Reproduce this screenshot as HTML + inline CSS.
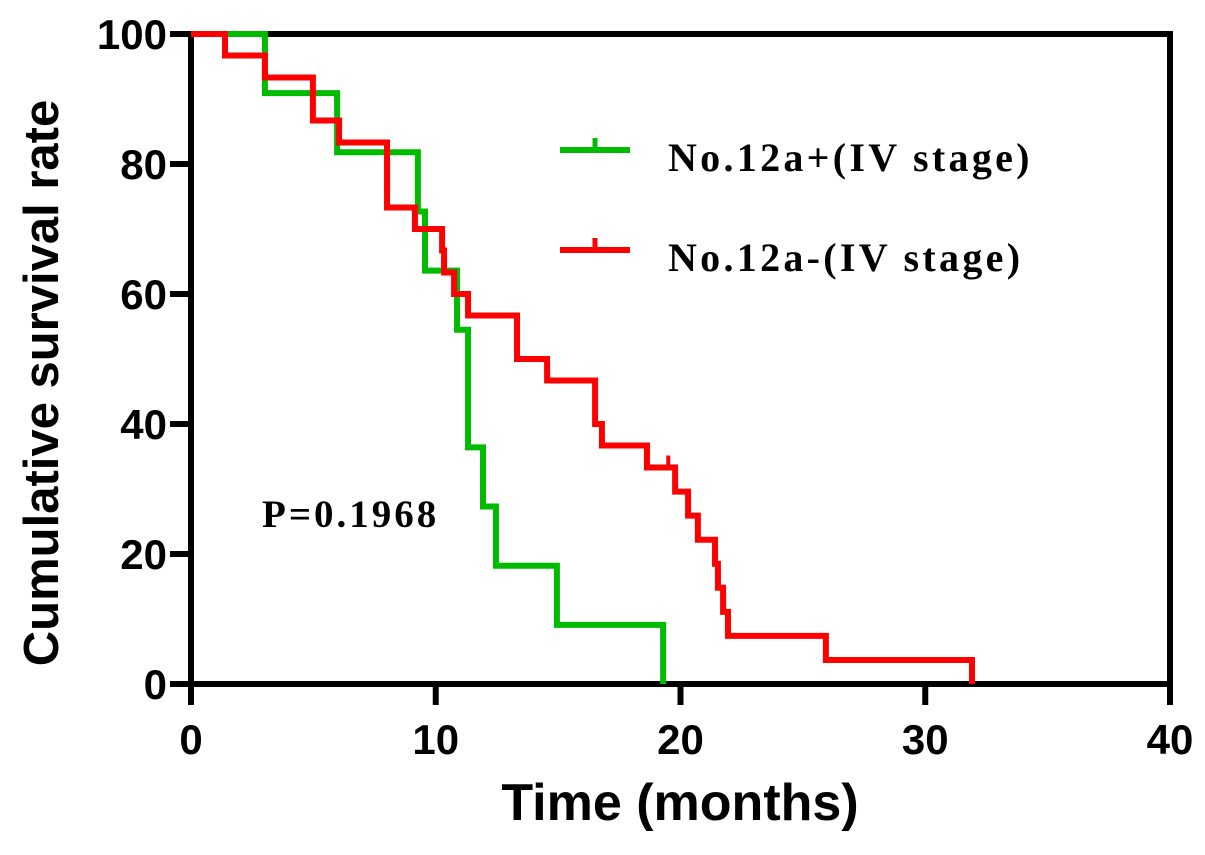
<!DOCTYPE html>
<html><head><meta charset="utf-8"><style>
html,body{margin:0;padding:0;background:#fff;}
svg{display:block;}
.tk{font-family:"Liberation Sans",Arial,sans-serif;font-weight:bold;font-size:42px;fill:#000;}
.ser{font-family:"Liberation Serif",serif;font-weight:bold;}
</style></head><body>
<svg id="chart" width="1205" height="855" xmlns="http://www.w3.org/2000/svg">
<g id="axes"></g>
<g id="series"></g>
<text class="tk" transform="translate(58,383) rotate(-90)" text-anchor="middle" style="font-size:49px">Cumulative survival rate</text>
<text class="tk" x="680" y="820" text-anchor="middle" style="font-size:52px">Time (months)</text>
<text class="ser" x="262" y="527" font-size="39" letter-spacing="3">P=0.1968</text>
<g>
<g>
<line x1="560" y1="150" x2="630" y2="150" stroke="#00bb00" stroke-width="6"/>
<line x1="595" y1="138" x2="595" y2="150" stroke="#00bb00" stroke-width="5"/>
<text class="ser" x="668" y="171" font-size="40" letter-spacing="3.3">No.12a+(IV stage)</text>
</g>
<g>
<line x1="560" y1="250" x2="630" y2="250" stroke="#ff0000" stroke-width="6"/>
<line x1="595" y1="238" x2="595" y2="250" stroke="#ff0000" stroke-width="5"/>
<text class="ser" x="668" y="271" font-size="40" letter-spacing="3.3">No.12a-(IV stage)</text>
</g>
</g>
</svg>
<script>
const xTicks=[0,10,20,30,40];
const yTicks=[0,20,40,60,80,100];
const greenTimes=[3.02,5.97,9.27,9.56,10.87,11.32,11.93,12.46,14.95,19.29];
const greenSurv=[90.9,81.8,72.7,63.6,54.5,36.4,27.3,18.2,9.1,0];
const redTimes=[1.39,3.02,4.98,6.05,8.01,9.15,10.26,10.34,10.75,11.32,13.32,14.55,16.51,16.79,18.63,19.78,20.31,20.71,21.41,21.53,21.74,21.94,25.94,31.91];
const redSurv=[96.7,93.3,86.7,83.3,73.3,70,66.7,63.3,60,56.7,50,46.7,40,36.7,33.3,29.6,25.9,22.2,18.5,14.8,11.1,7.4,3.7,0];
const redCensorTimes=[19.5];
const redCensorSurv=[33.3];
const NS="http://www.w3.org/2000/svg";
const X0=191,X1=1170,Y0=684,Y1=34;
const sx=v=>X0+(v-0)/40*(X1-X0);
const sy=v=>Y0-(v/100)*(Y0-Y1);
function mk(tag,attrs,parent){const e=document.createElementNS(NS,tag);for(const k in attrs)e.setAttribute(k,attrs[k]);parent.appendChild(e);return e;}
const ax=document.getElementById('axes');
let l=mk('path',{d:`M${X0},${Y1} H${X1} V${Y0} H${X0} Z`,fill:'none',stroke:'#000','stroke-width':6},ax);


xTicks.forEach(t=>{
 const tl=mk('line',{x1:sx(t),x2:sx(t),y1:Y0,y2:Y0+21,stroke:'#000','stroke-width':6},ax);
 
 
 const tx=mk('text',{x:sx(t),y:Y0+70,'text-anchor':'middle',class:'tk'},ax);
 tx.textContent=t;
 
 
});
yTicks.forEach(t=>{
 const tl=mk('line',{x1:X0-21,x2:X0,y1:sy(t),y2:sy(t),stroke:'#000','stroke-width':6},ax);
 
 
 const tx=mk('text',{x:X0-24,y:sy(t)+15,'text-anchor':'end',class:'tk'},ax);
 tx.textContent=t;
 
 
});
const sg=document.getElementById('series');
function step(times,surv,color,name){
 let d=`M${sx(0)},${sy(100)}`;
 times.forEach((t,i)=>{d+=` H${sx(t)} V${sy(surv[i])}`;});
 const p=mk('path',{d:d,fill:'none',stroke:color,'stroke-width':6,'stroke-linejoin':'miter'},sg);
 
 
}
step(greenTimes,greenSurv,'#00bb00','green-survival-curve');
step(redTimes,redSurv,'#ff0000','red-survival-curve');
redCensorTimes.forEach((t,i)=>{
 const c=mk('line',{x1:sx(t),x2:sx(t),y1:sy(redCensorSurv[i])-12,y2:sy(redCensorSurv[i]),stroke:'#ff0000','stroke-width':4},sg);
 
 
});
</script>
</body></html>
